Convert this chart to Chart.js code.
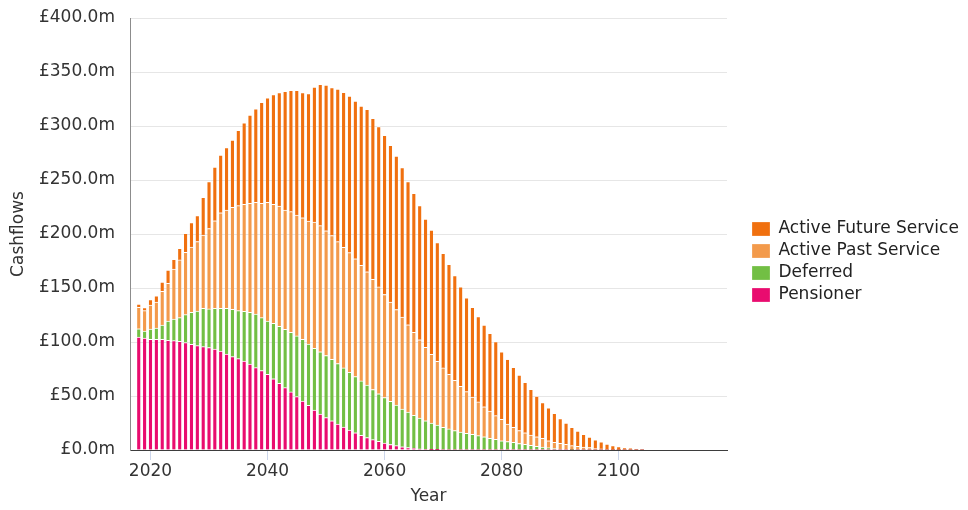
<!DOCTYPE html>
<html>
<head>
<meta charset="utf-8">
<script src="https://cdn.jsdelivr.net/npm/chart.js@4.4.1/dist/chart.umd.min.js"></script>
<style>
  html, body { margin: 0; padding: 0; background: #fff; }
  #wrap { width: 968px; height: 510px; }
</style>
</head>
<body>
<div id="wrap"><canvas id="cashflowChart" width="968" height="510"></canvas></div>
<script>
// Years (categories)
const years = [
  2018, 2019, 2020, 2021, 2022, 2023, 2024, 2025, 2026, 2027,
  2028, 2029, 2030, 2031, 2032, 2033, 2034, 2035, 2036, 2037,
  2038, 2039, 2040, 2041, 2042, 2043, 2044, 2045, 2046, 2047,
  2048, 2049, 2050, 2051, 2052, 2053, 2054, 2055, 2056, 2057,
  2058, 2059, 2060, 2061, 2062, 2063, 2064, 2065, 2066, 2067,
  2068, 2069, 2070, 2071, 2072, 2073, 2074, 2075, 2076, 2077,
  2078, 2079, 2080, 2081, 2082, 2083, 2084, 2085, 2086, 2087,
  2088, 2089, 2090, 2091, 2092, 2093, 2094, 2095, 2096, 2097,
  2098, 2099, 2100, 2101, 2102, 2103, 2104
];

// Cashflows in £m per year
const pensioner = [
  104.6, 103.7, 102.5, 102.5, 102.5, 101.5, 101.2, 100.6, 99.4, 97.8,
  96.6, 95.7, 94.8, 93.5, 91.7, 88.9, 86.4, 84.6, 82.4, 79.5,
  76.2, 73.5, 70.1, 65.9, 61.7, 57.7, 53.8, 49.4, 45.3, 41.3,
  37.0, 33.3, 30.0, 27.0, 24.0, 21.2, 18.5, 16.0, 13.6, 11.5,
  9.6, 8.0, 6.5, 5.1, 4.0, 3.0, 2.2, 1.5, 1.0, 0.6,
  0.3, 0.1, 0, 0, 0, 0, 0, 0, 0, 0,
  0, 0, 0, 0, 0, 0, 0, 0, 0, 0,
  0, 0, 0, 0, 0, 0, 0, 0, 0, 0,
  0, 0, 0, 0, 0, 0, 0
];

const deferred = [
  7.7, 6.5, 9.5, 10.5, 13.2, 17.9, 20.1, 21.9, 25.9, 29.7,
  32.1, 35.5, 35.8, 37.7, 39.5, 42.3, 43.8, 44.4, 46.0, 48.0,
  49.7, 49.0, 49.3, 51.4, 52.8, 54.0, 55.2, 56.2, 57.2, 56.8,
  57.1, 57.7, 57.5, 57.0, 56.0, 54.8, 53.5, 52.0, 50.4, 48.5,
  46.4, 44.0, 42.0, 39.9, 37.5, 35.0, 32.8, 30.5, 28.5, 26.4,
  24.7, 22.9, 21.0, 19.5, 18.0, 16.5, 15.5, 14.5, 13.3, 12.3,
  10.8, 9.9, 8.6, 7.8, 7.0, 6.0, 5.2, 4.3, 3.5, 2.8,
  2.0, 1.4, 0.9, 0.5, 0.2, 0, 0, 0, 0, 0,
  0, 0, 0, 0, 0, 0, 0
];

const activePast = [
  19.7, 18.8, 22.3, 24.0, 31.3, 34.9, 46.3, 53.5, 57.7, 60.5,
  64.3, 67.8, 74.4, 81.1, 88.5, 91.0, 94.5, 97.2, 99.1, 100.9,
  103.4, 105.9, 109.9, 110.2, 111.4, 110.5, 111.7, 112.0, 112.5, 113.9,
  116.9, 116.7, 115.5, 114.5, 112.9, 111.6, 110.7, 109.0, 107.0, 105.0,
  102.0, 99.0, 95.5, 92.0, 88.5, 85.0, 81.0, 77.0, 72.5, 68.0,
  63.5, 59.0, 55.0, 50.5, 46.5, 42.5, 38.5, 34.5, 31.2, 27.7,
  25.2, 21.9, 19.8, 16.2, 14.0, 12.0, 10.8, 9.6, 8.8, 8.0,
  6.6, 5.7, 5.3, 4.7, 3.8, 3.4, 2.8, 2.2, 1.5, 1.0,
  0.6, 0.3, 0.1, 0, 0, 0, 0
];

const activeFuture = [
  3.2, 2.8, 4.9, 5.8, 8.5, 12.4, 8.9, 10.7, 17.6, 22.5,
  24.0, 35.0, 43.5, 49.7, 53.3, 57.8, 62.3, 69.8, 75.5, 81.6,
  86.7, 93.6, 96.7, 101.5, 105.1, 109.8, 112.3, 115.4, 116.0, 118.0,
  125.0, 130.9, 135.0, 137.0, 141.4, 143.6, 145.1, 146.1, 147.5, 150.4,
  149.1, 148.4, 147.4, 145.1, 142.2, 138.4, 132.5, 128.7, 124.2, 118.9,
  115.2, 110.0, 106.1, 102.0, 97.0, 92.0, 87.0, 83.0, 79.0, 75.7,
  72.0, 68.5, 62.6, 60.0, 55.5, 51.4, 46.7, 42.3, 37.7, 33.2,
  30.4, 26.9, 22.8, 19.8, 17.0, 14.1, 11.7, 9.8, 8.0, 6.5,
  4.9, 3.9, 3.1, 2.3, 1.6, 1.0, 0.5
];

const seriesNames = ['Pensioner', 'Deferred', 'Active Past Service', 'Active Future Service'];
const seriesColors = ['#e90c6f', '#72bf44', '#f39a4b', '#f0700f'];
const xTicks = [2020, 2040, 2060, 2080, 2100];

Chart.defaults.font.family = "'DejaVu Sans', sans-serif";
Chart.defaults.font.size = 17;
Chart.defaults.color = '#333';

function toPoints(values) {
    return years.map((yr, i) => ({ x: yr, y: values[i] }));
}

function makeDataset(name, values, color) {
    return {
        label: name,
        data: toPoints(values),
        backgroundColor: color,
        borderColor: '#ffffff',
        borderWidth: { top: 1, left: 0, right: 0, bottom: 0 },
        barThickness: 3.2
    };
}

// Legend sits a bit away from the plot, like the original
const legendPlacement = {
    id: 'legendPlacement',
    beforeLayout(chart) {
        const lg = chart.legend;
        if (lg && !lg._patched) {
            const fit = lg.fit;
            lg.fit = function () {
                fit.call(this);
                this.width = 241;
            };
            lg._patched = true;
        }
    },
    afterLayout(chart) {
        const lg = chart.legend;
        lg.left += 20;
        lg.right += 20;
        lg.top -= 2;
        lg.bottom -= 2;
    }
};

const ctx = document.getElementById('cashflowChart').getContext('2d');
const cashflowChart = new Chart(ctx, {
    type: 'bar',
    data: {
        datasets: [
            makeDataset(seriesNames[0], pensioner, seriesColors[0]),
            makeDataset(seriesNames[1], deferred, seriesColors[1]),
            makeDataset(seriesNames[2], activePast, seriesColors[2]),
            makeDataset(seriesNames[3], activeFuture, seriesColors[3])
        ]
    },
    options: {
        responsive: false,
        animation: false,
        layout: { padding: { top: 18, left: 0, right: 0, bottom: 0 } },
        scales: {
            x: {
                type: 'linear',
                stacked: true,
                min: 2016.5,
                max: 2118.5,
                offset: false,
                afterBuildTicks: s => { s.ticks = xTicks.map(v => ({ value: v })); },
                afterFit: s => { s.height = 60; },
                grid: { offset: false, drawOnChartArea: false, drawTicks: true, tickLength: 10, color: '#ccd6eb' },
                border: { display: true, color: '#3d3d3d', width: 1 },
                ticks: {
                    color: '#333',
                    padding: 1,
                    maxRotation: 0,
                    autoSkip: false,
                    callback: v => String(v)
                },
                title: { display: true, text: 'Year', color: '#333', padding: { top: 6, bottom: 3 } }
            },
            y: {
                stacked: true,
                min: 0,
                max: 400,
                afterFit: s => { s.width = 130; },
                ticks: {
                    stepSize: 50,
                    padding: 0,
                    color: '#333',
                    callback: v => '£' + v.toFixed(1) + 'm'
                },
                // invisible tick marks keep the labels clear of the axis
                grid: { color: '#e6e6e6', drawTicks: true, tickLength: 15, tickColor: 'rgba(0,0,0,0)' },
                border: { display: true, color: '#8c8c8c', width: 1 },
                title: { display: true, text: 'Cashflows', color: '#333', padding: { top: 8, bottom: 0 } }
            }
        },
        plugins: {
            legend: {
                position: 'right',
                reverse: true,
                labels: {
                    boxWidth: 18,
                    boxHeight: 14,
                    padding: 5,
                    color: '#222'
                }
            },
            tooltip: { enabled: false }
        }
    },
    plugins: [legendPlacement]
});
</script>
</body>
</html>
